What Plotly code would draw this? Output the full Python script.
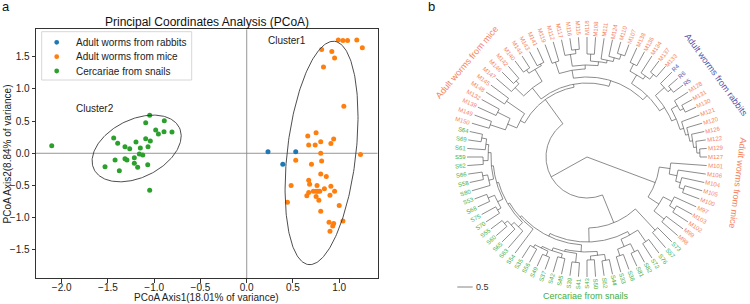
import math
import plotly.graph_objects as go

# ======================= DATA: panel a (PCoA) =======================
series_names = ["Adult worms from rabbits", "Adult worms from mice", "Cercariae from snails"]

rabbits_x = [0.23, 0.53, 0.39]
rabbits_y = [0.025, 0.025, -0.17]

mice_x = [0.99, 1.04, 1.09, 1.19, 1.25, 0.81, 0.92, 0.95, 0.83, 1.05,
          0.66, 0.75, 0.94, 0.80, 0.67, 0.74, 0.91, 0.80, 1.23, 0.53,
          0.70, 0.81, 0.80, 0.86, 0.67, 0.68, 0.48, 0.76, 0.91, 0.84,
          0.95, 0.72, 0.75, 0.77, 0.79, 0.67, 0.65, 0.75, 0.90, 0.78,
          0.44, 1.00, 0.80, 0.89, 1.04, 0.94, 0.93, 0.90]
mice_y = [1.76, 1.75, 1.75, 1.76, 1.64, 1.61, 1.58, 1.48, 1.34, 0.73,
          0.27, 0.32, 0.22, 0.18, 0.13, 0.13, 0.15, 0.00, -0.02, -0.11,
          -0.17, -0.12, -0.32, -0.36, -0.42, -0.48, -0.50, -0.50, -0.51, -0.55,
          -0.59, -0.59, -0.59, -0.59, -0.59, -0.61, -0.66, -0.67, -0.65, -0.73,
          -0.76, -0.81, -0.90, -1.07, -1.05, -1.09, -1.13, -1.21]

snails_x = [-2.108, -1.438, -1.395, -1.316, -1.265, -1.197, -1.092, -1.049, -0.984, -0.955,
            -0.891, -0.894, -0.808, -1.092, -1.042, -1.067, -1.150, -1.161, -1.124, -1.215,
            -1.316, -1.295, -1.423, -1.532, -1.215, -1.179, -1.377, -1.070, -1.049]
snails_y = [0.118, 0.238, 0.155, 0.103, 0.072, 0.176, 0.476, 0.590, 0.362, 0.300,
            0.506, 0.336, 0.331, 0.227, 0.191, 0.103, 0.082, -0.011, -0.026, -0.068,
            -0.084, -0.104, -0.104, -0.208, -0.155, -0.217, -0.270, -0.177, -0.575]

x_ticks = [-2.0, -1.5, -1.0, -0.5, 0.0, 0.5, 1.0]
y_ticks = [-1.5, -1.0, -0.5, 0.0, 0.5, 1.0, 1.5]
cluster_names = ["Cluster1", "Cluster2"]
title_text = "Principal Coordinates Analysis (PCoA)"
x_title = "PCoA Axis1(18.01% of variance)"
y_title = "PCoA Axis2(8.84% of variance)"

# ======================= DATA: panel b (circular tree) =======================
# internal node = [node_radius, child, child, ...]; leaf = name
TREE_A = [73,
          [84, "M101", [92, "M106", [97, "M104", [102, "M105", "M100"]]]],
          [86, [96, "M97", [102, "M103", "M102"]], [99, "M99", "M98"]]]
TREE_B2 = [71,
           [100, "S73", "S57"],
           [85,
            [89, [103, "S76", "S72"], [97, [106, "S82", "S81"], [104, "S38", "S33"]]],
            [88,
             [95, [99, [105, "S44", "S52"], [103, "S50", "S43"]],
                  [97, [106, "S41", "S39"], [100, [104, "S45", "S42"],
                                              [102, [107, "S37", "S49"], [105, "S56", "S35"]]]]],
             [90, "S54",
              [92, [98, "S63", [102, "S65", [106, "S60", "S55"]]],
                   [94, [100, [104, "S70", "S75"], [107, "S68", "S53"]],
                        [96, [101, "S80", [106, "S58", "S66"]],
                             [99, [104, "S62", "S59"], [102, "S61", [107, "S69", "S64"]]]]]]]]]]
TREE_B1 = [71,
           [76, [86, [102, "M150", "M149"], [100, "M139", "M132"]], [98, "M148", "M145"]],
           [74,
            [88, [100, "M147", [104, "M146", "M142"]], [102, [106, "M140", "M144"], [104, "M143", "M141"]]],
            [80,
             [88, [100, "M119", "M112"],
                  [92, [104, "M117", [108, "M116", "M115"]],
                       [96, [103, "M118", "M108"], [99, "M111", [103, "M124", [108, "M110", "M107"]]]]]],
             [86, [96, [104, "M138", "M136"], [100, "M134", [106, "M137", "M133"]]],
                  [92, [104, "R4", [108, "R6", "R5"]],
                       [97, [104, "M128", [108, "M131", "M130"]],
                            [101, "M121", [104, "M120", [107, "M126", [110, "M122", [113, "M129", "M127"]]]]]]]]]]]
TREE = [0, [41, TREE_B2, TREE_B1], TREE_A]

group_names = ["Adult worms from mice", "Adult worms from rabbits", "Adult worms from mice", "Cercariae from snails"]
scale_label = "0.5"

# ======================= STYLE / LAYOUT =======================
W, H = 750, 304
FONT = "Liberation Sans, Arial, sans-serif"
C_RAB, C_MICE, C_SNAIL = "#1f77b4", "#ff7f0e", "#2ca02c"
T_RAB, T_MICE, T_SNAIL = "#5252a8", "#f58360", "#3fae3f"

PX_L, PX_R, PX_T, PX_B = 36.0, 377.7, 29.3, 278.3
XR = [-2.278, 1.416]
YR = [-1.941, 1.925]
sx = (PX_R - PX_L) / (XR[1] - XR[0])
sy = (PX_B - PX_T) / (YR[1] - YR[0])

fig = go.Figure()

# zero lines
fig.add_shape(type="line", xref="x", yref="y", x0=XR[0], x1=XR[1], y0=0, y1=0,
              line=dict(color="#8a8a8a", width=0.9), layer="below")
fig.add_shape(type="line", xref="x", yref="y", x0=0, x1=0, y0=YR[0], y1=YR[1],
              line=dict(color="#8a8a8a", width=0.9), layer="below")

for nm, xs, ys, col in [(series_names[0], rabbits_x, rabbits_y, C_RAB),
                        (series_names[1], mice_x, mice_y, C_MICE),
                        (series_names[2], snails_x, snails_y, C_SNAIL)]:
    fig.add_trace(go.Scatter(x=xs, y=ys, mode="markers", name=nm, showlegend=False,
                             marker=dict(color=col, size=5, line=dict(width=0)),
                             xaxis="x", yaxis="y"))


def ellipse(cx, cy, a_px, b_px, ang_deg, n=240):
    th = math.radians(ang_deg)
    xs, ys = [], []
    for i in range(n + 1):
        t = 2 * math.pi * i / n
        ex, ey = a_px * math.cos(t), b_px * math.sin(t)
        px = ex * math.cos(th) - ey * math.sin(th)
        py = ex * math.sin(th) + ey * math.cos(th)
        xs.append(cx + px / sx)
        ys.append(cy + py / sy)
    return xs, ys


for (cx, cy, a, b, ang) in [(0.809, 0.005, 112.4, 34.3, 83.35), (-1.19, 0.075, 47.5, 29.0, 26.0)]:
    ex, ey = ellipse(cx, cy, a, b, ang)
    fig.add_trace(go.Scatter(x=ex, y=ey, mode="lines", showlegend=False, hoverinfo="skip",
                             line=dict(color="#3a3a3a", width=0.9), xaxis="x", yaxis="y"))

ann = []


def txt(text, x, y, xref="paper", yref="paper", size=10, color="#222", xa="center", ya="middle", angle=0):
    ann.append(dict(text=text, x=x, y=y, xref=xref, yref=yref, showarrow=False, textangle=angle,
                    xanchor=xa, yanchor=ya, font=dict(size=size, color=color, family=FONT)))


txt(cluster_names[0], 0.432, 1.75, "x", "y")
txt(cluster_names[1], -1.635, 0.70, "x", "y")
midx = (PX_L + PX_R) / 2 / W
txt(title_text, midx, 1 - 21.7 / H, size=12, color="#111")
txt(x_title, midx, 1 - 297.2 / H)
txt(y_title, 6.5 / W, 1 - 154 / H, angle=-90)
txt("a", 5.5 / W, 1 - 6.5 / H, size=13, color="#111")
txt("b", 431.5 / W, 1 - 6.5 / H, size=13, color="#111")

# manual legend (matplotlib style)
fig.add_shape(type="rect", xref="paper", yref="paper", x0=41.7 / W, x1=191.7 / W,
              y0=1 - 80 / H, y1=1 - 31.7 / H, line=dict(color="#cccccc", width=0.8),
              fillcolor="rgba(255,255,255,0.85)", layer="above")
for i, (nm, col) in enumerate(zip(series_names, [C_RAB, C_MICE, C_SNAIL])):
    ypx = 42.3 + 14.35 * i
    fig.add_shape(type="circle", xref="paper", yref="paper",
                  x0=(56.7 - 2.4) / W, x1=(56.7 + 2.4) / W,
                  y0=1 - (ypx + 2.4) / H, y1=1 - (ypx - 2.4) / H,
                  fillcolor=col, line=dict(width=0), layer="above")
    txt(nm, 74 / W, 1 - ypx / H, xa="left")

# ======================= circular tree =======================
CX, CY = 587.0, 157.0
X2L = 390.0
LEAF_R = 120.0

leaf_order = []


def collect(n):
    if isinstance(n, str):
        leaf_order.append(n)
    else:
        for c in n[1:]:
            collect(c)


collect(TREE)
N = len(leaf_order)
STEP = 360.0 / N
START = -45.0
leaf_ang = {nm: START - i * STEP for i, nm in enumerate(leaf_order)}

tx, ty = [], []


def pol(r, a):
    return r * math.cos(math.radians(a)), r * math.sin(math.radians(a))


def draw(n, parent_r):
    if isinstance(n, str):
        a, r = leaf_ang[n], LEAF_R
    else:
        r = n[0]
        angs = [draw(c, r) for c in n[1:]]
        a = (angs[0] + angs[-1]) / 2
        if r > 0:
            span = angs[-1] - angs[0]
            k = max(2, int(abs(span) / 0.8) + 1)
            for j in range(k + 1):
                px, py = pol(r, angs[0] + span * j / k)
                tx.append(px)
                ty.append(py)
            tx.append(None)
            ty.append(None)
    if parent_r is not None:
        x0, y0 = pol(parent_r, a)
        x1, y1 = pol(r, a)
        tx.extend([x0, x1, None])
        ty.extend([y0, y1, None])
    return a


draw(TREE, None)
fig.add_trace(go.Scatter(x=tx, y=ty, mode="lines", showlegend=False, hoverinfo="skip",
                         line=dict(color="#5a5a5a", width=0.7), xaxis="x2", yaxis="y2"))

CW = {"M": 0.833, "S": 0.667, "R": 0.722}
FS_LEAF = 6
for nm in leaf_order:
    a = leaf_ang[nm]
    w = FS_LEAF * sum(CW.get(ch, 0.556) for ch in nm)
    rc = LEAF_R + 1.5 + w / 2
    px, py = pol(rc, a)
    an = ((a + 180) % 360) - 180
    if -90 < an <= 90:
        ta = -an
    else:
        ta = 180 - an
        if ta > 180:
            ta -= 360
    col = T_MICE if nm[0] == "M" else (T_SNAIL if nm[0] == "S" else T_RAB)
    txt(nm, px, py, "x2", "y2", size=FS_LEAF, color=col, angle=ta)

for (g, r, a, ta, col) in [(group_names[0], 153, 141.6, -50, T_MICE),
                           (group_names[1], 153, 32.4, 54, T_RAB),
                           (group_names[2], 153, -9.8, 97, T_MICE),
                           (group_names[3], 139, -90.4, 0, T_SNAIL)]:
    px, py = pol(r, a)
    txt(g, px, py, "x2", "y2", size=9, color=col, angle=ta)

# scale bar
fig.add_shape(type="line", xref="x2", yref="y2", x0=457.3 - CX, x1=472.7 - CX,
              y0=CY - 287, y1=CY - 287, line=dict(color="#666", width=0.8))
txt(scale_label, 473.5 - CX, CY - 287, "x2", "y2", size=9, color="#333", xa="left")

axis_common = dict(showgrid=False, zeroline=False, showline=True, linecolor="#333", linewidth=0.9,
                   mirror=True, ticks="outside", ticklen=3.5, tickwidth=0.8, tickcolor="#333",
                   tickfont=dict(size=10, color="#222", family=FONT), tickformat=".1f", fixedrange=True)

fig.update_layout(
    width=W, height=H, margin=dict(l=0, r=0, t=0, b=0),
    paper_bgcolor="white", plot_bgcolor="white", showlegend=False,
    font=dict(family=FONT),
    xaxis=dict(domain=[PX_L / W, PX_R / W], range=XR, tickvals=x_ticks, anchor="y",
               ticklabelstandoff=-4, **axis_common),
    yaxis=dict(domain=[1 - PX_B / H, 1 - PX_T / H], range=YR, tickvals=y_ticks, anchor="x", **axis_common),
    xaxis2=dict(domain=[X2L / W, 1.0], range=[X2L - CX, W - CX], visible=False, fixedrange=True, anchor="y2"),
    yaxis2=dict(domain=[0.0, 1.0], range=[CY - H, CY], visible=False, fixedrange=True, anchor="x2"),
    annotations=ann,
)

fig.write_html("out.html", config={"displayModeBar": False},
               post_script="document.body.style.margin='0px';document.body.style.overflow='hidden';")
